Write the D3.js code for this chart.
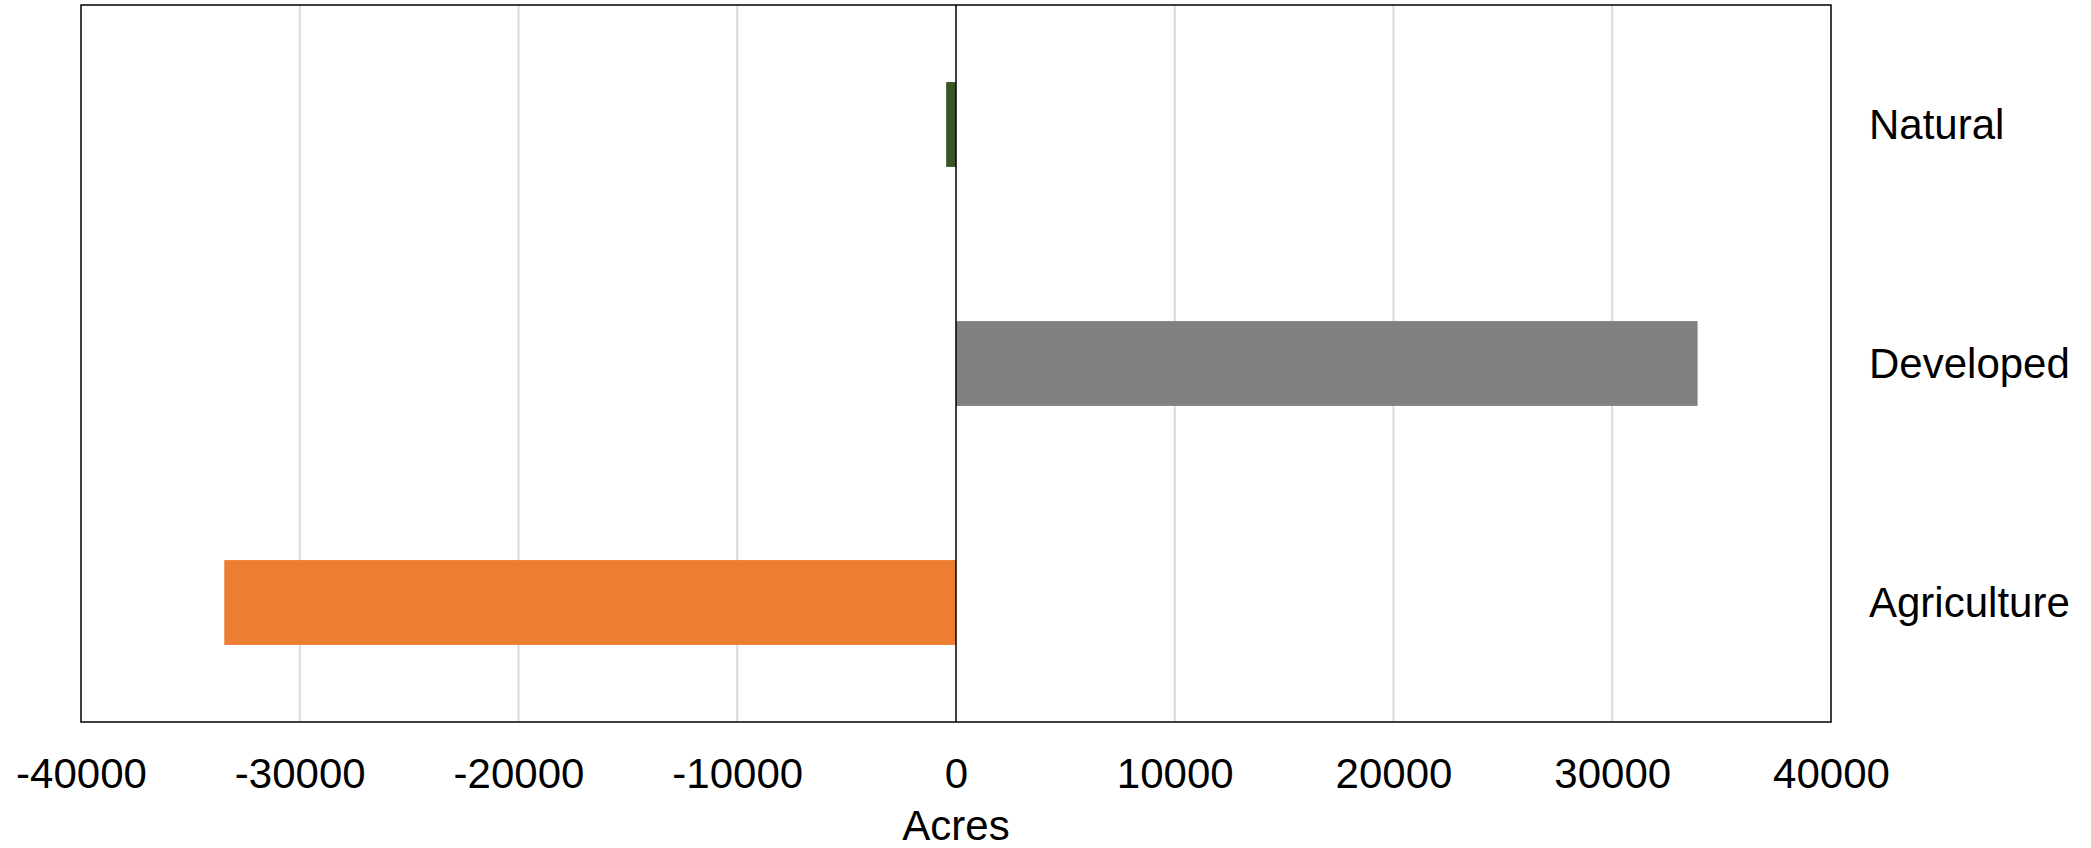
<!DOCTYPE html>
<html>
<head>
<meta charset="utf-8">
<script src="https://cdn.jsdelivr.net/npm/d3@7"></script>
<style>
  html, body { margin: 0; padding: 0; background: #fff; }
  svg { display: block; font-family: "Liberation Sans", Arial, sans-serif; }
</style>
</head>
<body>
<div id="chart"></div>
<script>
// Land cover change, acres
const categories = ['Natural', 'Developed', 'Agriculture'];
const values = [-450, 33900, -33450];
const barColors = ['#375623', '#808080', '#ED7D31'];
const xTicks = [-40000, -30000, -20000, -10000, 0, 10000, 20000, 30000, 40000];

const W = 2091, H = 848;
const margin = { top: 5, right: 260, bottom: 126, left: 81 };
const width = W - margin.left - margin.right;
const height = H - margin.top - margin.bottom;

const svg = d3.select('#chart')
  .append('svg')
  .attr('width', W)
  .attr('height', H);

const g = svg.append('g')
  .attr('transform', `translate(${margin.left},${margin.top})`);

// Scales
const x = d3.scaleLinear()
  .domain([-40000, 40000])
  .range([0, width]);

const y = d3.scaleBand()
  .domain(categories)
  .range([0, height])
  .paddingInner(0.645)
  .paddingOuter(0.3225);

// Gridlines
g.selectAll('.grid')
  .data(xTicks.filter(d => d !== 0 && Math.abs(d) !== 40000))
  .join('line')
  .attr('class', 'grid')
  .attr('x1', d => x(d))
  .attr('x2', d => x(d))
  .attr('y1', 0)
  .attr('y2', height)
  .attr('stroke', '#d9d9d9')
  .attr('stroke-width', 2);

// Bars
g.selectAll('.bar')
  .data(categories)
  .join('rect')
  .attr('class', 'bar')
  .attr('x', (d, i) => x(Math.min(0, values[i])))
  .attr('y', d => y(d))
  .attr('width', (d, i) => Math.abs(x(values[i]) - x(0)))
  .attr('height', y.bandwidth())
  .attr('fill', (d, i) => barColors[i]);

// Zero line
g.append('line')
  .attr('x1', x(0))
  .attr('x2', x(0))
  .attr('y1', 0)
  .attr('y2', height)
  .attr('stroke', '#000')
  .attr('stroke-width', 1.5);

// Frame
g.append('rect')
  .attr('x', 0)
  .attr('y', 0)
  .attr('width', width)
  .attr('height', height)
  .attr('fill', 'none')
  .attr('stroke', '#000')
  .attr('stroke-width', 1.5);

// X axis labels (plain hyphen for negatives)
const xAxis = g.append('g')
  .attr('transform', `translate(0,${height})`)
  .call(d3.axisBottom(x).tickValues(xTicks).tickSize(0).tickPadding(36).tickFormat(d => String(d)));
xAxis.select('.domain').remove();
xAxis.selectAll('text')
  .attr('font-family', '"Liberation Sans", Arial, sans-serif')
  .attr('font-size', '42px')
  .attr('fill', '#000');

// Category labels (right side)
g.selectAll('.cat-label')
  .data(categories)
  .join('text')
  .attr('class', 'cat-label')
  .attr('x', width + 38)
  .attr('y', d => y(d) + y.bandwidth() / 2 + 14)
  .attr('font-size', '42px')
  .attr('fill', '#000')
  .text(d => d);

// Axis title
g.append('text')
  .attr('x', x(0))
  .attr('y', height + 118)
  .attr('text-anchor', 'middle')
  .attr('font-size', '42px')
  .attr('fill', '#000')
  .text('Acres');
</script>
</body>
</html>
